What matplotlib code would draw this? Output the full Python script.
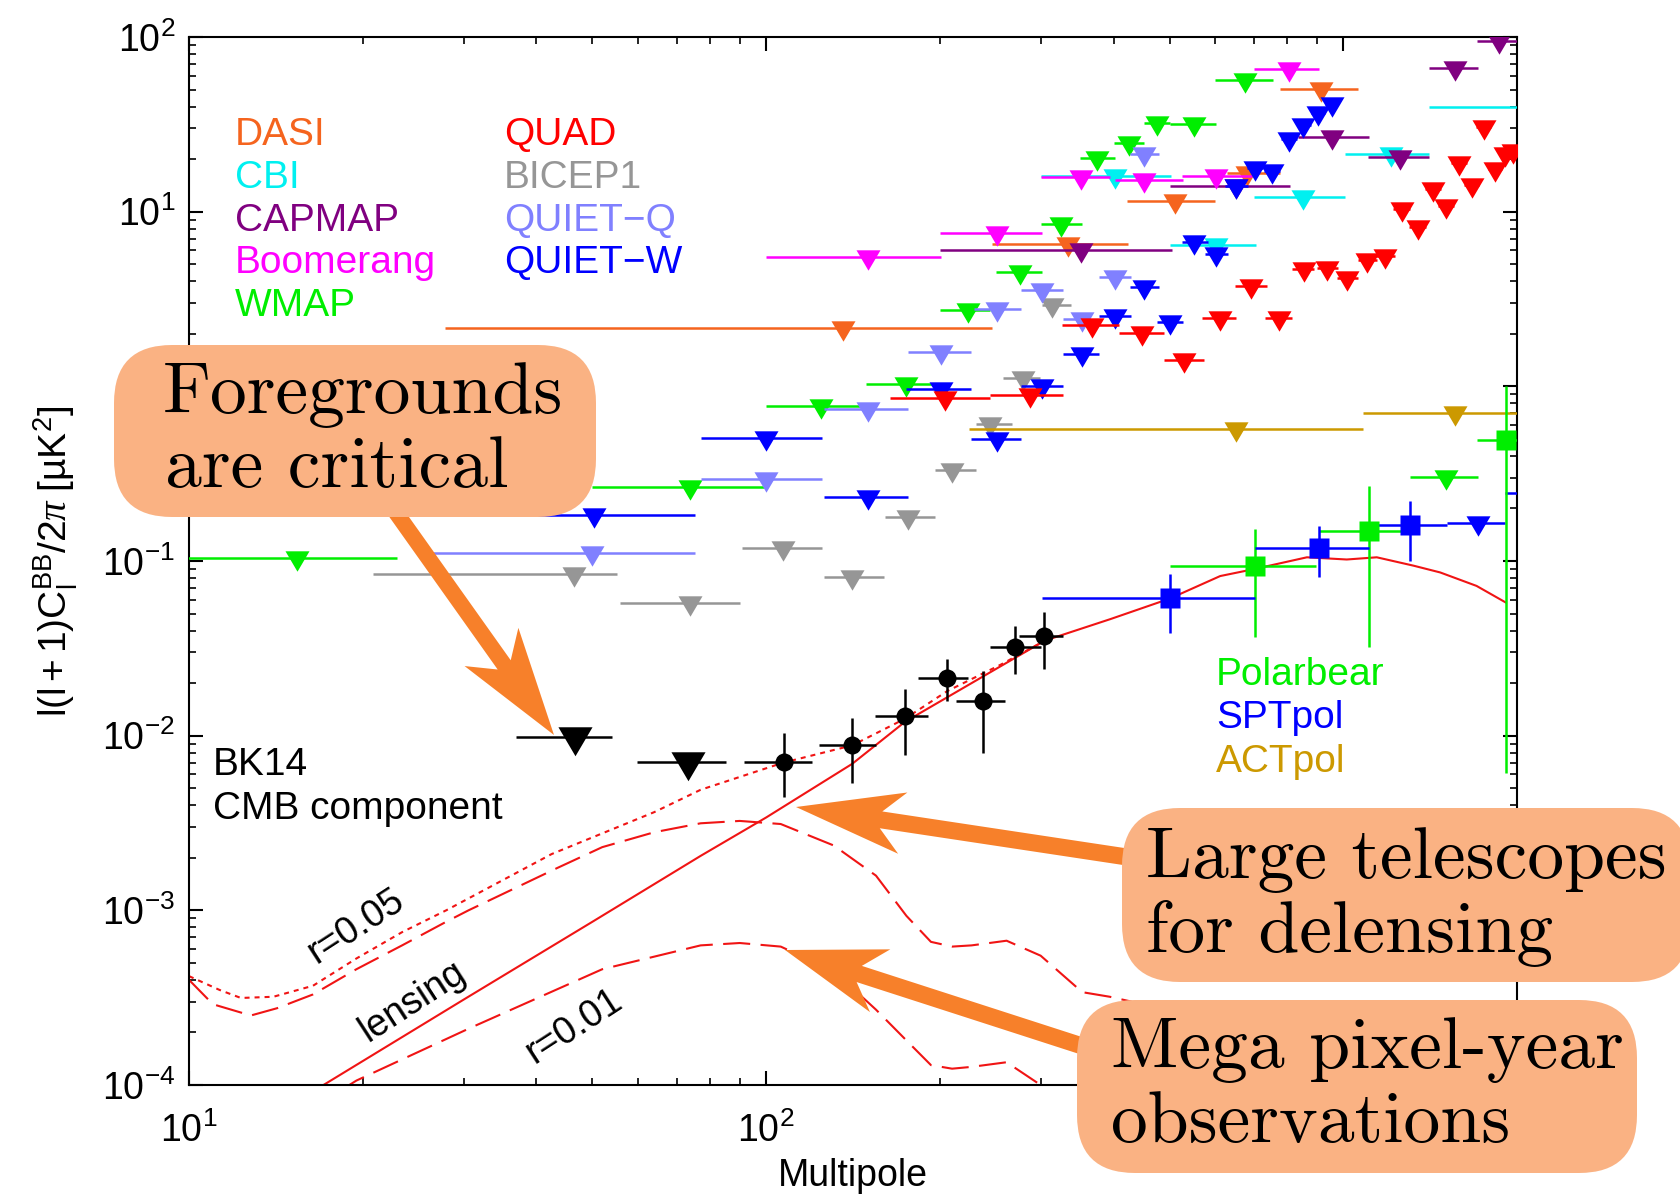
import numpy as np
import matplotlib.pyplot as plt
from matplotlib.path import Path
from matplotlib.patches import FancyBboxPatch, Polygon
from matplotlib.transforms import IdentityTransform
from matplotlib.ticker import NullFormatter

W, H, DPI = 1681, 1199, 100

plt.rcParams['font.family'] = ['Liberation Sans', 'DejaVu Sans']
plt.rcParams['mathtext.fontset'] = 'custom'
plt.rcParams['mathtext.rm'] = 'Liberation Sans'
plt.rcParams['mathtext.it'] = 'Liberation Serif:italic'
plt.rcParams['mathtext.bf'] = 'Liberation Sans:bold'

# ---------------- upper limits: bin centre, bin low, bin high, value ----------------
dasi_l  = [136, 334, 511, 681, 916]
dasi_lo = [27.8, 246, 422, 628, 776]
dasi_hi = [246, 423, 600, 778, 1059]
dasi_v  = [2.16, 6.53, 11.5, 16.7, 50.1]

cbi_l  = [402, 603, 853, 1208, 2200]
cbi_lo = [300, 501, 701, 1005, 1406]
cbi_hi = [502, 705, 1007, 1409, 3000]
cbi_v  = [16.1, 6.44, 12.2, 21.3, 39.8]

capmap_l  = [351, 653, 955, 1256, 1560, 1858]
capmap_lo = [200, 500, 836, 1104, 1406, 1702]
capmap_hi = [504, 807, 1107, 1409, 1714, 2040]
capmap_v  = [6.06, 14.0, 26.7, 20.5, 66.7, 94.6]

boom_l  = [150, 251, 351, 451, 603, 804]
boom_lo = [100, 200, 300, 403, 525, 701]
boom_hi = [201, 301, 394, 528, 695, 906]
boom_v  = [5.53, 7.58, 15.8, 15.2, 16.1, 65.2]

wmap_l  = [15.4, 73.8, 124.5, 175, 224, 275, 324, 375, 426, 476, 552, 676]
wmap_lo = [8, 49.9, 100, 149, 200, 250, 300, 350, 400, 451, 501, 600]
wmap_hi = [22.9, 99.6, 145.5, 195, 244, 301, 352, 402, 452, 501, 603, 755]
wmap_v  = [0.104, 0.264, 0.773, 1.03, 2.73, 4.54, 8.54, 20.2, 24.6, 32.3, 31.6, 57.1]

quad_l  = [204, 286, 530, 367, 448, 612, 774, 693, 855, 938, 1016, 1099,
           1183, 1346, 1262, 1507, 1429, 1671, 1589, 1832, 1910, 1972, 1750]
quad_lo = [164, 244, 490, 325, 408, 569, 733, 650, 815, 900, 977, 1059,
           1140, 1300, 1220, 1460, 1385, 1620, 1540, 1780, 1860, 1920, 1700]
quad_hi = [244, 327, 573, 408, 490, 653, 815, 738, 889, 981, 1062, 1143,
           1231, 1390, 1305, 1555, 1475, 1720, 1640, 1885, 1960, 2030, 1800]
quad_v  = [0.862, 0.889, 1.42, 2.24, 2.01, 2.47, 2.47, 3.75, 4.68, 4.78, 4.19, 5.28,
           5.57, 8.2, 10.3, 10.8, 13.4, 14.3, 18.9, 17.5, 21.3, 22.2, 30.6]

bicep1_l  = [46.5, 73.8, 107, 141, 176, 210, 244, 279, 313]
bicep1_lo = [20.8, 55.8, 90.8, 126, 161, 196, 231, 257, 301]
bicep1_hi = [55.1, 90, 125, 160, 196, 231, 267, 298, 337]
bicep1_v  = [0.0838, 0.0572, 0.119, 0.0813, 0.178, 0.331, 0.607, 1.11, 2.92]

quietq_l  = [49.9, 100, 150, 201, 251, 301, 352, 402, 452]
quietq_lo = [24.8, 77, 126, 176, 229, 276, 327, 377, 427]
quietq_hi = [75.3, 125, 176, 226, 276, 327, 364, 428, 479]
quietq_v  = [0.111, 0.294, 0.740, 1.57, 2.79, 3.56, 2.44, 4.25, 21.3]

quietw_l  = [50.4, 100, 150, 201, 251, 301, 352, 402, 452, 501, 552, 603, 653,
             703, 753, 804, 853, 904, 955]
quietw_lo = [26, 77, 126, 175, 226, 276, 327, 377, 427, 476, 525, 575, 624,
             680, 730, 780, 830, 880, 930]
quietw_hi = [75.3, 125, 176, 226, 276, 327, 378, 428, 479, 528, 582, 631, 684,
             727, 778, 830, 878, 930, 980]
quietw_v  = [0.183, 0.505, 0.233, 0.962, 0.498, 1.01, 1.53, 2.53, 3.72, 2.34, 6.70,
             5.70, 14.0, 17.8, 17.1, 26.2, 31.2, 36.5, 41.1]

act_l  = [653, 1560]
act_lo = [225, 1084]
act_hi = [1084, 2300]
act_v  = [0.569, 0.699]

pbul_l, pbul_lo, pbul_hi, pbul_v = [1507], [1306], [1714], [0.301]
sptul_l, sptul_lo, sptul_hi, sptul_v = [1710, 2300], [1510, 1910], [1910, 2700], [0.166, 0.244]

bkul_l  = [46.6, 73.3]
bkul_lo = [36.8, 59.7]
bkul_hi = [54.0, 85.3]
bkul_v  = [9.8e-3, 7.1e-3]

# ---------------- detections ----------------
pb_l   = [702, 1107, 1915]
pb_lo  = [500, 906, 1702]
pb_hi  = [898, 1271, 2100]
pb_v   = [0.094, 0.149, 0.492]
pb_vlo = [0.0366, 0.032, 0.0061]
pb_vhi = [0.152, 0.269, 1.0]

spt_l   = [501, 906, 1306]
spt_lo  = [301, 702, 1107]
spt_hi  = [703, 1107, 1510]
spt_v   = [0.0611, 0.1186, 0.160]
spt_vlo = [0.0386, 0.0805, 0.100]
spt_vhi = [0.084, 0.158, 0.221]

bk_l   = [107.2, 141, 174, 206, 238, 270, 303]
bk_lo  = [91.6, 123.6, 154.6, 183.6, 213, 244, 274]
bk_hi  = [120.3, 155, 190.6, 224, 259, 299, 327]
bk_v   = [7.1e-3, 8.85e-3, 0.0130, 0.0213, 0.0157, 0.0321, 0.0374]
bk_vlo = [4.44e-3, 5.34e-3, 7.7e-3, 0.0158, 8.0e-3, 0.0226, 0.0241]
bk_vhi = [0.0103, 0.0127, 0.0185, 0.0275, 0.0235, 0.0427, 0.0509]

# ---------------- theory curves ----------------
lens_l = [10, 17.1, 30, 50, 77, 100, 141, 174, 255, 304, 395, 501, 612, 702,
          865, 1014, 1143, 1324, 1472, 1702, 1910]
lens_v = [3.4e-5, 1.0e-4, 3.1e-4, 8.6e-4, 2.05e-3, 3.4e-3, 6.9e-3, 1.2e-2, 2.5e-2,
          3.5e-2, 4.65e-2, 6.1e-2, 8.2e-2, 9.0e-2, 0.105, 0.102, 0.105, 0.094,
          0.086, 0.072, 0.058]

tot_l = [10, 11.3, 12.3, 14, 16.4, 19.5, 23.4, 27.9, 42.5, 64, 77, 107, 141, 174,
         206, 255, 304]
tot_v = [4.2e-4, 3.5e-4, 3.15e-4, 3.2e-4, 3.7e-4, 5.3e-4, 7.5e-4, 1.0e-3, 2.1e-3,
         3.65e-3, 4.9e-3, 7.0e-3, 8.8e-3, 1.25e-2, 1.8e-2, 2.55e-2, 3.5e-2]

r05_l = [10, 11, 12.8, 14.2, 16.4, 19.5, 23.4, 27.9, 30.5, 43.5, 52, 64, 77, 90,
         106, 131, 155, 175, 193, 210, 227, 261, 299, 353, 394, 430]
r05_v = [4.0e-4, 2.9e-4, 2.5e-4, 2.75e-4, 3.3e-4, 4.6e-4, 6.3e-4, 8.6e-4, 1.0e-3,
         1.75e-3, 2.3e-3, 2.8e-3, 3.15e-3, 3.25e-3, 3.12e-3, 2.35e-3, 1.58e-3,
         9.3e-4, 6.6e-4, 6.2e-4, 6.3e-4, 6.7e-4, 5.5e-4, 3.4e-4, 3.2e-4, 3.0e-4]

r01_l = [14.2, 19.5, 30.5, 52, 77, 90, 106, 131, 155, 175, 193, 210, 227, 261, 299, 340]
r01_v = [5.5e-5, 1.06e-4, 2.1e-4, 4.6e-4, 6.3e-4, 6.5e-4, 6.2e-4, 4.5e-4, 2.7e-4,
         1.8e-4, 1.3e-4, 1.24e-4, 1.27e-4, 1.35e-4, 1.0e-4, 6.5e-5]

# colours
C_DASI, C_CBI, C_CAPMAP, C_BOOM, C_WMAP = '#F5641E', '#00F0F0', '#800080', '#FF00FF', '#00EE00'
C_QUAD, C_BICEP1, C_QQ, C_QW = '#FF0000', '#969696', '#8080FF', '#0000FF'
C_PB, C_SPT, C_ACT = '#00EE00', '#0000FF', '#CC9900'
C_TH = '#F01414'
C_BOX, C_ARROW = '#FAB283', '#F7802A'

tri = Path([(-1, 0.6), (1, 0.6), (0, -1.1), (-1, 0.6)],
           [Path.MOVETO, Path.LINETO, Path.LINETO, Path.CLOSEPOLY])


def limits(ax, l, lo, hi, v, color, ms=19, z=3):
    l, lo, hi = np.asarray(l, float), np.asarray(lo, float), np.asarray(hi, float)
    ax.errorbar(l, v, xerr=[l - lo, hi - l], fmt='none', ecolor=color,
                elinewidth=1.8, zorder=z)
    ax.plot(l, v, ls='none', marker=tri, ms=ms, color=color, mec='none', zorder=z)


def detections(ax, l, lo, hi, v, vlo, vhi, color, marker, ms, z=4):
    l, lo, hi = np.asarray(l, float), np.asarray(lo, float), np.asarray(hi, float)
    v, vlo, vhi = np.asarray(v), np.asarray(vlo), np.asarray(vhi)
    ax.errorbar(l, v, xerr=[l - lo, hi - l], yerr=[v - vlo, vhi - v], fmt=marker,
                ms=ms, color=color, mec='none', elinewidth=1.8, capsize=0, zorder=z)


fig = plt.figure(figsize=(W / DPI, H / DPI), dpi=DPI)
ax = fig.add_axes([189 / W, 1 - 1085 / H, (1517 - 189) / W, (1085 - 37) / H])
ax.set_xscale('log')
ax.set_yscale('log')
ax.set_xlim(10, 2000)
ax.set_ylim(1e-4, 1e2)

# theory
ax.plot(lens_l, lens_v, color=C_TH, lw=1.5, zorder=2)
ax.plot(tot_l, tot_v, color=C_TH, lw=1.5, dashes=(2.4, 2.4), zorder=2)
ax.plot(r05_l, r05_v, color=C_TH, lw=1.5, dashes=(13, 5), zorder=2)
ax.plot(r01_l, r01_v, color=C_TH, lw=1.5, dashes=(13, 5), zorder=2)

# previous upper limits
limits(ax, dasi_l, dasi_lo, dasi_hi, dasi_v, C_DASI)
limits(ax, cbi_l, cbi_lo, cbi_hi, cbi_v, C_CBI)
limits(ax, capmap_l, capmap_lo, capmap_hi, capmap_v, C_CAPMAP)
limits(ax, boom_l, boom_lo, boom_hi, boom_v, C_BOOM)
limits(ax, wmap_l, wmap_lo, wmap_hi, wmap_v, C_WMAP)
limits(ax, bicep1_l, bicep1_lo, bicep1_hi, bicep1_v, C_BICEP1)
limits(ax, quietq_l, quietq_lo, quietq_hi, quietq_v, C_QQ)
limits(ax, quietw_l, quietw_lo, quietw_hi, quietw_v, C_QW)
limits(ax, quad_l, quad_lo, quad_hi, quad_v, C_QUAD)
limits(ax, act_l, act_lo, act_hi, act_v, C_ACT)
limits(ax, pbul_l, pbul_lo, pbul_hi, pbul_v, C_PB)
limits(ax, sptul_l, sptul_lo, sptul_hi, sptul_v, C_SPT)

detections(ax, pb_l, pb_lo, pb_hi, pb_v, pb_vlo, pb_vhi, C_PB, 's', 14)
detections(ax, spt_l, spt_lo, spt_hi, spt_v, spt_vlo, spt_vhi, C_SPT, 's', 14)

limits(ax, bkul_l, bkul_lo, bkul_hi, bkul_v, 'black', ms=27, z=5)
detections(ax, bk_l, bk_lo, bk_hi, bk_v, bk_vlo, bk_vhi, 'black', 'o', 13, z=5)

# axes styling
for s in ax.spines.values():
    s.set_linewidth(1.5)
ax.tick_params(which='both', direction='in', top=True, right=True, labelsize=27)
ax.tick_params(which='major', length=10, width=1.5)
ax.tick_params(which='minor', length=5, width=1.2)
ax.tick_params(axis='x', pad=20)
ax.tick_params(axis='y', pad=10)
ax.xaxis.set_minor_formatter(NullFormatter())
ax.yaxis.set_minor_formatter(NullFormatter())

ax.set_xlabel('Multipole', fontsize=27)
ax.xaxis.set_label_coords(0.5, -0.07)
ax.set_ylabel(r'$\mathrm{l(l+1)C_l^{BB}/2}\pi\ \mathrm{[µK^2]}$', fontsize=28)
ax.yaxis.set_label_coords(-0.082, 0.5)


def fx(x):
    return x / W


def fy(y):
    return 1 - y / H


# legend texts
col1 = [('DASI', C_DASI), ('CBI', C_CBI), ('CAPMAP', C_CAPMAP), ('Boomerang', C_BOOM), ('WMAP', C_WMAP)]
col2 = [('QUAD', C_QUAD), ('BICEP1', C_BICEP1), ('QUIET\u2212Q', C_QQ), ('QUIET\u2212W', C_QW)]
rows = [145, 188, 231, 273, 316]
for (t, c), y in zip(col1, rows):
    fig.text(fx(235), fy(y), t, color=c, fontsize=28, va='baseline')
for (t, c), y in zip(col2, rows):
    fig.text(fx(504), fy(y), t, color=c, fontsize=28, va='baseline')
for (t, c), y in zip([('Polarbear', C_PB), ('SPTpol', C_SPT), ('ACTpol', C_ACT)], [685, 728, 772]):
    fig.text(fx(1216), fy(y), t, color=c, fontsize=28, va='baseline')
fig.text(fx(213), fy(775), 'BK14', fontsize=28, va='baseline')
fig.text(fx(213), fy(819), 'CMB component', fontsize=28, va='baseline')

for t, x, y in [('r=0.05', 356, 926), ('lensing', 413, 1002), ('r=0.01', 574, 1026)]:
    fig.text(fx(x), fy(y), t, fontsize=27, rotation=33, ha='center', va='center',
             rotation_mode='anchor')


# annotation boxes and arrows (pixel coordinates, y measured from the top)
def rbox(x0, y0, x1, y1, r=58):
    fig.add_artist(FancyBboxPatch((x0, H - y1), x1 - x0, y1 - y0,
                                  boxstyle=f'round,pad=0,rounding_size={r}',
                                  transform=IdentityTransform(), fc=C_BOX, ec='none', zorder=6))


def arrow(tail, tip, sw=16, hl=108, hw=64, notch=22):
    t, p = np.array(tail, float), np.array(tip, float)
    u = (p - t) / np.linalg.norm(p - t)
    n = np.array([-u[1], u[0]])
    j = p - u * (hl - notch)
    b = p - u * hl
    pts = [t + n * sw / 2, j + n * sw / 2, b + n * hw / 2, p,
           b - n * hw / 2, j - n * sw / 2, t - n * sw / 2]
    fig.add_artist(Polygon([(x, H - y) for x, y in pts], closed=True,
                           transform=IdentityTransform(), fc=C_ARROW, ec='none', zorder=5))


arrow((380, 490), (554, 735), hw=66)
arrow((1160, 862), (796, 807), sw=17, hw=62)
arrow((1110, 1055), (785, 950), sw=17, hl=100, hw=66)

rbox(114, 345, 596, 517)
rbox(1122, 808, 1690, 982)
rbox(1077, 1000, 1637, 1173)

box_text = [('Foregrounds', 163, 413), ('are critical', 165, 487),
            ('Large telescopes', 1146, 878), ('for delensing', 1146, 952),
            ('Mega pixel-year', 1111, 1068), ('observations', 1111, 1142)]
for t, x, y in box_text:
    fig.text(fx(x), fy(y), t, fontsize=53, family='cmr10', va='baseline', zorder=7)

fig.savefig('out.png', dpi=DPI)
